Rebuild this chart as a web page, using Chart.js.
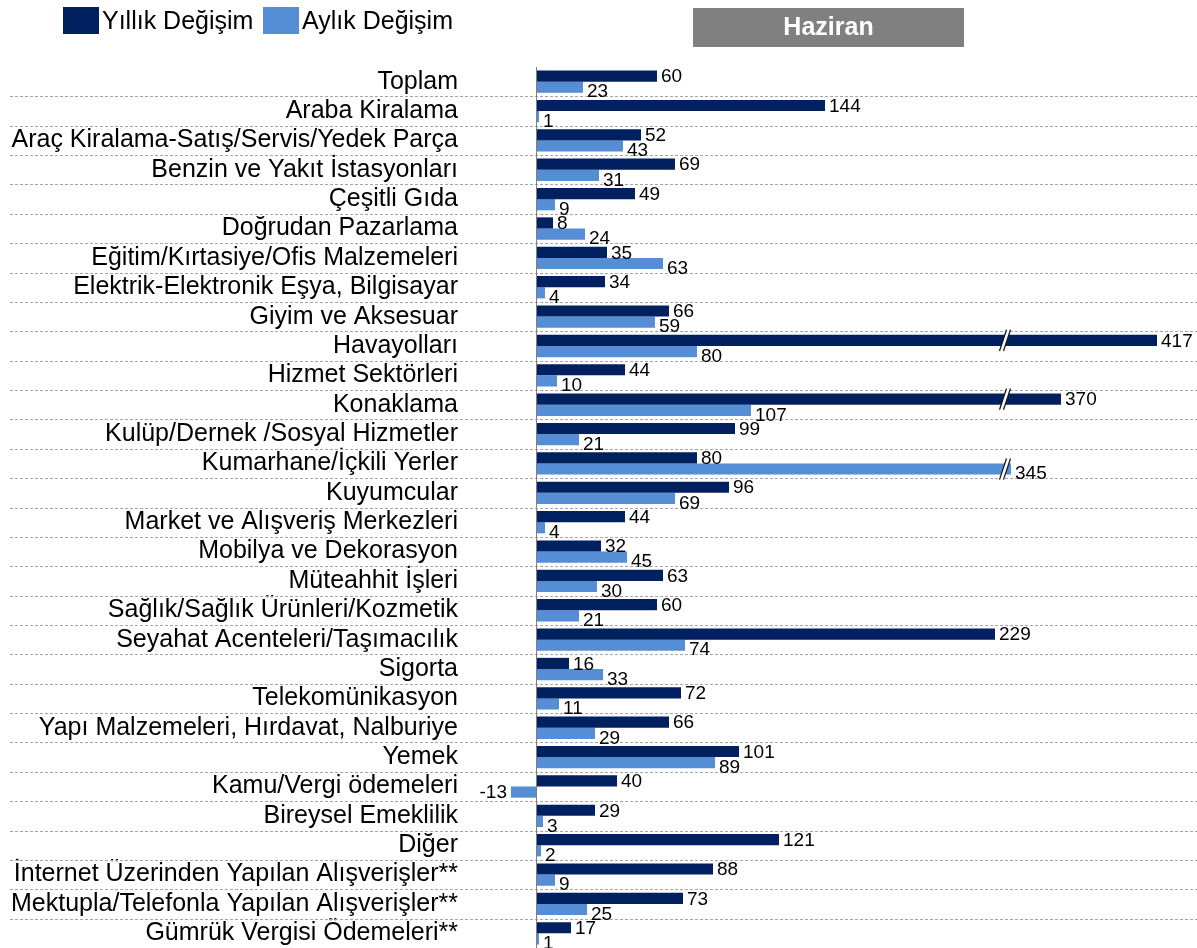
<!DOCTYPE html>
<html><head><meta charset="utf-8">
<script src="https://cdn.jsdelivr.net/npm/chart.js@4/dist/chart.umd.min.js"></script>
<style>html,body{margin:0;padding:0;background:#fff;} #wrap{position:relative;width:1197px;height:948px;}</style>
</head><body><div id="wrap"><canvas id="c" width="1197" height="948"></canvas></div>
<script>
const categories = [
  'Toplam','Araba Kiralama','Araç Kiralama-Satış/Servis/Yedek Parça','Benzin ve Yakıt İstasyonları',
  'Çeşitli Gıda','Doğrudan Pazarlama','Eğitim/Kırtasiye/Ofis Malzemeleri','Elektrik-Elektronik Eşya, Bilgisayar',
  'Giyim ve Aksesuar','Havayolları','Hizmet Sektörleri','Konaklama','Kulüp/Dernek /Sosyal Hizmetler',
  'Kumarhane/İçkili Yerler','Kuyumcular','Market ve Alışveriş Merkezleri','Mobilya ve Dekorasyon',
  'Müteahhit İşleri','Sağlık/Sağlık Ürünleri/Kozmetik','Seyahat Acenteleri/Taşımacılık','Sigorta',
  'Telekomünikasyon','Yapı Malzemeleri, Hırdavat, Nalburiye','Yemek','Kamu/Vergi ödemeleri',
  'Bireysel Emeklilik','Diğer','İnternet Üzerinden Yapılan Alışverişler**',
  'Mektupla/Telefonla Yapılan Alışverişler**','Gümrük Vergisi Ödemeleri**'
];
const yillikDegisim = [60,144,52,69,49,8,35,34,66,417,44,370,99,80,96,44,32,63,60,229,16,72,66,101,40,29,121,88,73,17];
const aylikDegisim  = [23,1,43,31,9,24,63,4,59,80,10,107,21,345,69,4,45,30,21,74,33,11,29,89,-13,3,2,9,25,1];
const seriesNames = ['Yıllık Değişim','Aylık Değişim'];
const seriesColors = ['#002060','#558ED5'];
const panelTitle = 'Haziran';
// Bars cut by an axis break "//": drawn length instead of the true value
const brokenBars = [
  {category:'Havayolları', series:0, drawnValue:310},
  {category:'Konaklama', series:0, drawnValue:262},
  {category:'Kumarhane/İçkili Yerler', series:1, drawnValue:237}
];
const breakMarkValue = 233;
const xMin = -35, xMax = 330;

const trueValues = [yillikDegisim, aylikDegisim];
const drawnData = trueValues.map((arr, s) => arr.map((v, i) => {
  const b = brokenBars.find(bb => bb.series === s && bb.category === categories[i]);
  return b ? b.drawnValue : v;
}));

const FONT = "'Liberation Sans', Arial, sans-serif";

const customPlugin = {
  id: 'custom',
  beforeDatasetsDraw(chart) {
    const ctx = chart.ctx, y = chart.scales.y;
    ctx.save();
    ctx.strokeStyle = '#A6A6A6';
    ctx.lineWidth = 1;
    ctx.setLineDash([3, 2]);
    for (let i = 0; i < categories.length - 1; i++) {
      const yy = Math.round((y.getPixelForValue(i) + y.getPixelForValue(i + 1)) / 2) + 0.5;
      ctx.beginPath(); ctx.moveTo(10, yy); ctx.lineTo(chart.width, yy); ctx.stroke();
    }
    ctx.restore();
  },
  afterDatasetsDraw(chart) {
    const ctx = chart.ctx, x = chart.scales.x, area = chart.chartArea;
    ctx.save();
    // zero axis line
    const x0 = Math.round(x.getPixelForValue(0)) - 0.5;
    ctx.strokeStyle = '#7F7F7F'; ctx.lineWidth = 1;
    ctx.beginPath(); ctx.moveTo(x0, area.top); ctx.lineTo(x0, area.bottom); ctx.stroke();
    // break marks
    brokenBars.forEach(b => {
      const i = categories.indexOf(b.category);
      const el = chart.getDatasetMeta(b.series).data[i];
      const bx = x.getPixelForValue(breakMarkValue);
      const top = el.y - el.height / 2 - 5, bot = el.y + el.height / 2 + 5;
      const dx = 3.5, gap = 4;
      ctx.fillStyle = '#ffffff';
      ctx.beginPath();
      ctx.moveTo(bx - dx, bot); ctx.lineTo(bx + dx, top); ctx.lineTo(bx + dx + gap, top); ctx.lineTo(bx - dx + gap, bot);
      ctx.closePath(); ctx.fill();
      ctx.strokeStyle = '#1a1a1a'; ctx.lineWidth = 1.3;
      ctx.beginPath(); ctx.moveTo(bx - dx, bot); ctx.lineTo(bx + dx, top); ctx.stroke();
      ctx.beginPath(); ctx.moveTo(bx - dx + gap, bot); ctx.lineTo(bx + dx + gap, top); ctx.stroke();
    });
    // value labels
    ctx.font = '19px ' + FONT;
    ctx.fillStyle = '#000';
    ctx.textBaseline = 'middle';
    trueValues.forEach((arr, s) => {
      const meta = chart.getDatasetMeta(s);
      arr.forEach((v, i) => {
        const el = meta.data[i];
        const dy = (s === 1 && v >= 0) ? 5 : 1;
        if (v >= 0) { ctx.textAlign = 'left'; ctx.fillText(String(v), el.x + 4, el.y + dy); }
        else { ctx.textAlign = 'right'; ctx.fillText(String(v), el.x - 4, el.y + dy); }
      });
    });
    ctx.restore();
  },
  afterDraw(chart) {
    const ctx = chart.ctx;
    ctx.save();
    // legend
    const legendX = [63, 263];
    ctx.font = '25px ' + FONT;
    ctx.textBaseline = 'middle';
    ctx.textAlign = 'left';
    chart.data.datasets.forEach((ds, k) => {
      ctx.fillStyle = ds.backgroundColor;
      ctx.fillRect(legendX[k], 7, 36, 27);
      ctx.fillStyle = '#000';
      ctx.fillText(ds.label, legendX[k] + 39, 22);
    });
    // panel title box
    ctx.fillStyle = '#808080';
    ctx.fillRect(693, 8, 271, 39);
    ctx.fillStyle = '#ffffff';
    ctx.font = 'bold 25px ' + FONT;
    ctx.textAlign = 'center';
    ctx.fillText(panelTitle, 828.5, 28);
    ctx.restore();
  }
};

new Chart(document.getElementById('c'), {
  type: 'bar',
  data: {
    labels: categories,
    datasets: seriesNames.map((name, s) => ({
      label: name,
      data: drawnData[s],
      backgroundColor: seriesColors[s],
      categoryPercentage: 0.76,
      barPercentage: 1
    }))
  },
  options: {
    indexAxis: 'y',
    responsive: false,
    animation: false,
    devicePixelRatio: 1,
    layout: { padding: { top: 67, bottom: 0, left: 0, right: 0 } },
    plugins: { legend: { display: false }, tooltip: { enabled: false }, title: { display: false } },
    scales: {
      x: { min: xMin, max: xMax, display: false },
      y: {
        grid: { display: false, drawTicks: false },
        border: { display: false },
        ticks: { autoSkip: false, color: '#000', font: { family: FONT, size: 25 }, padding: 9 },
        afterFit(scale) { scale.width = 467; scale.paddingTop = 0; scale.paddingBottom = 0; }
      }
    }
  },
  plugins: [customPlugin]
});
</script>
</body></html>
